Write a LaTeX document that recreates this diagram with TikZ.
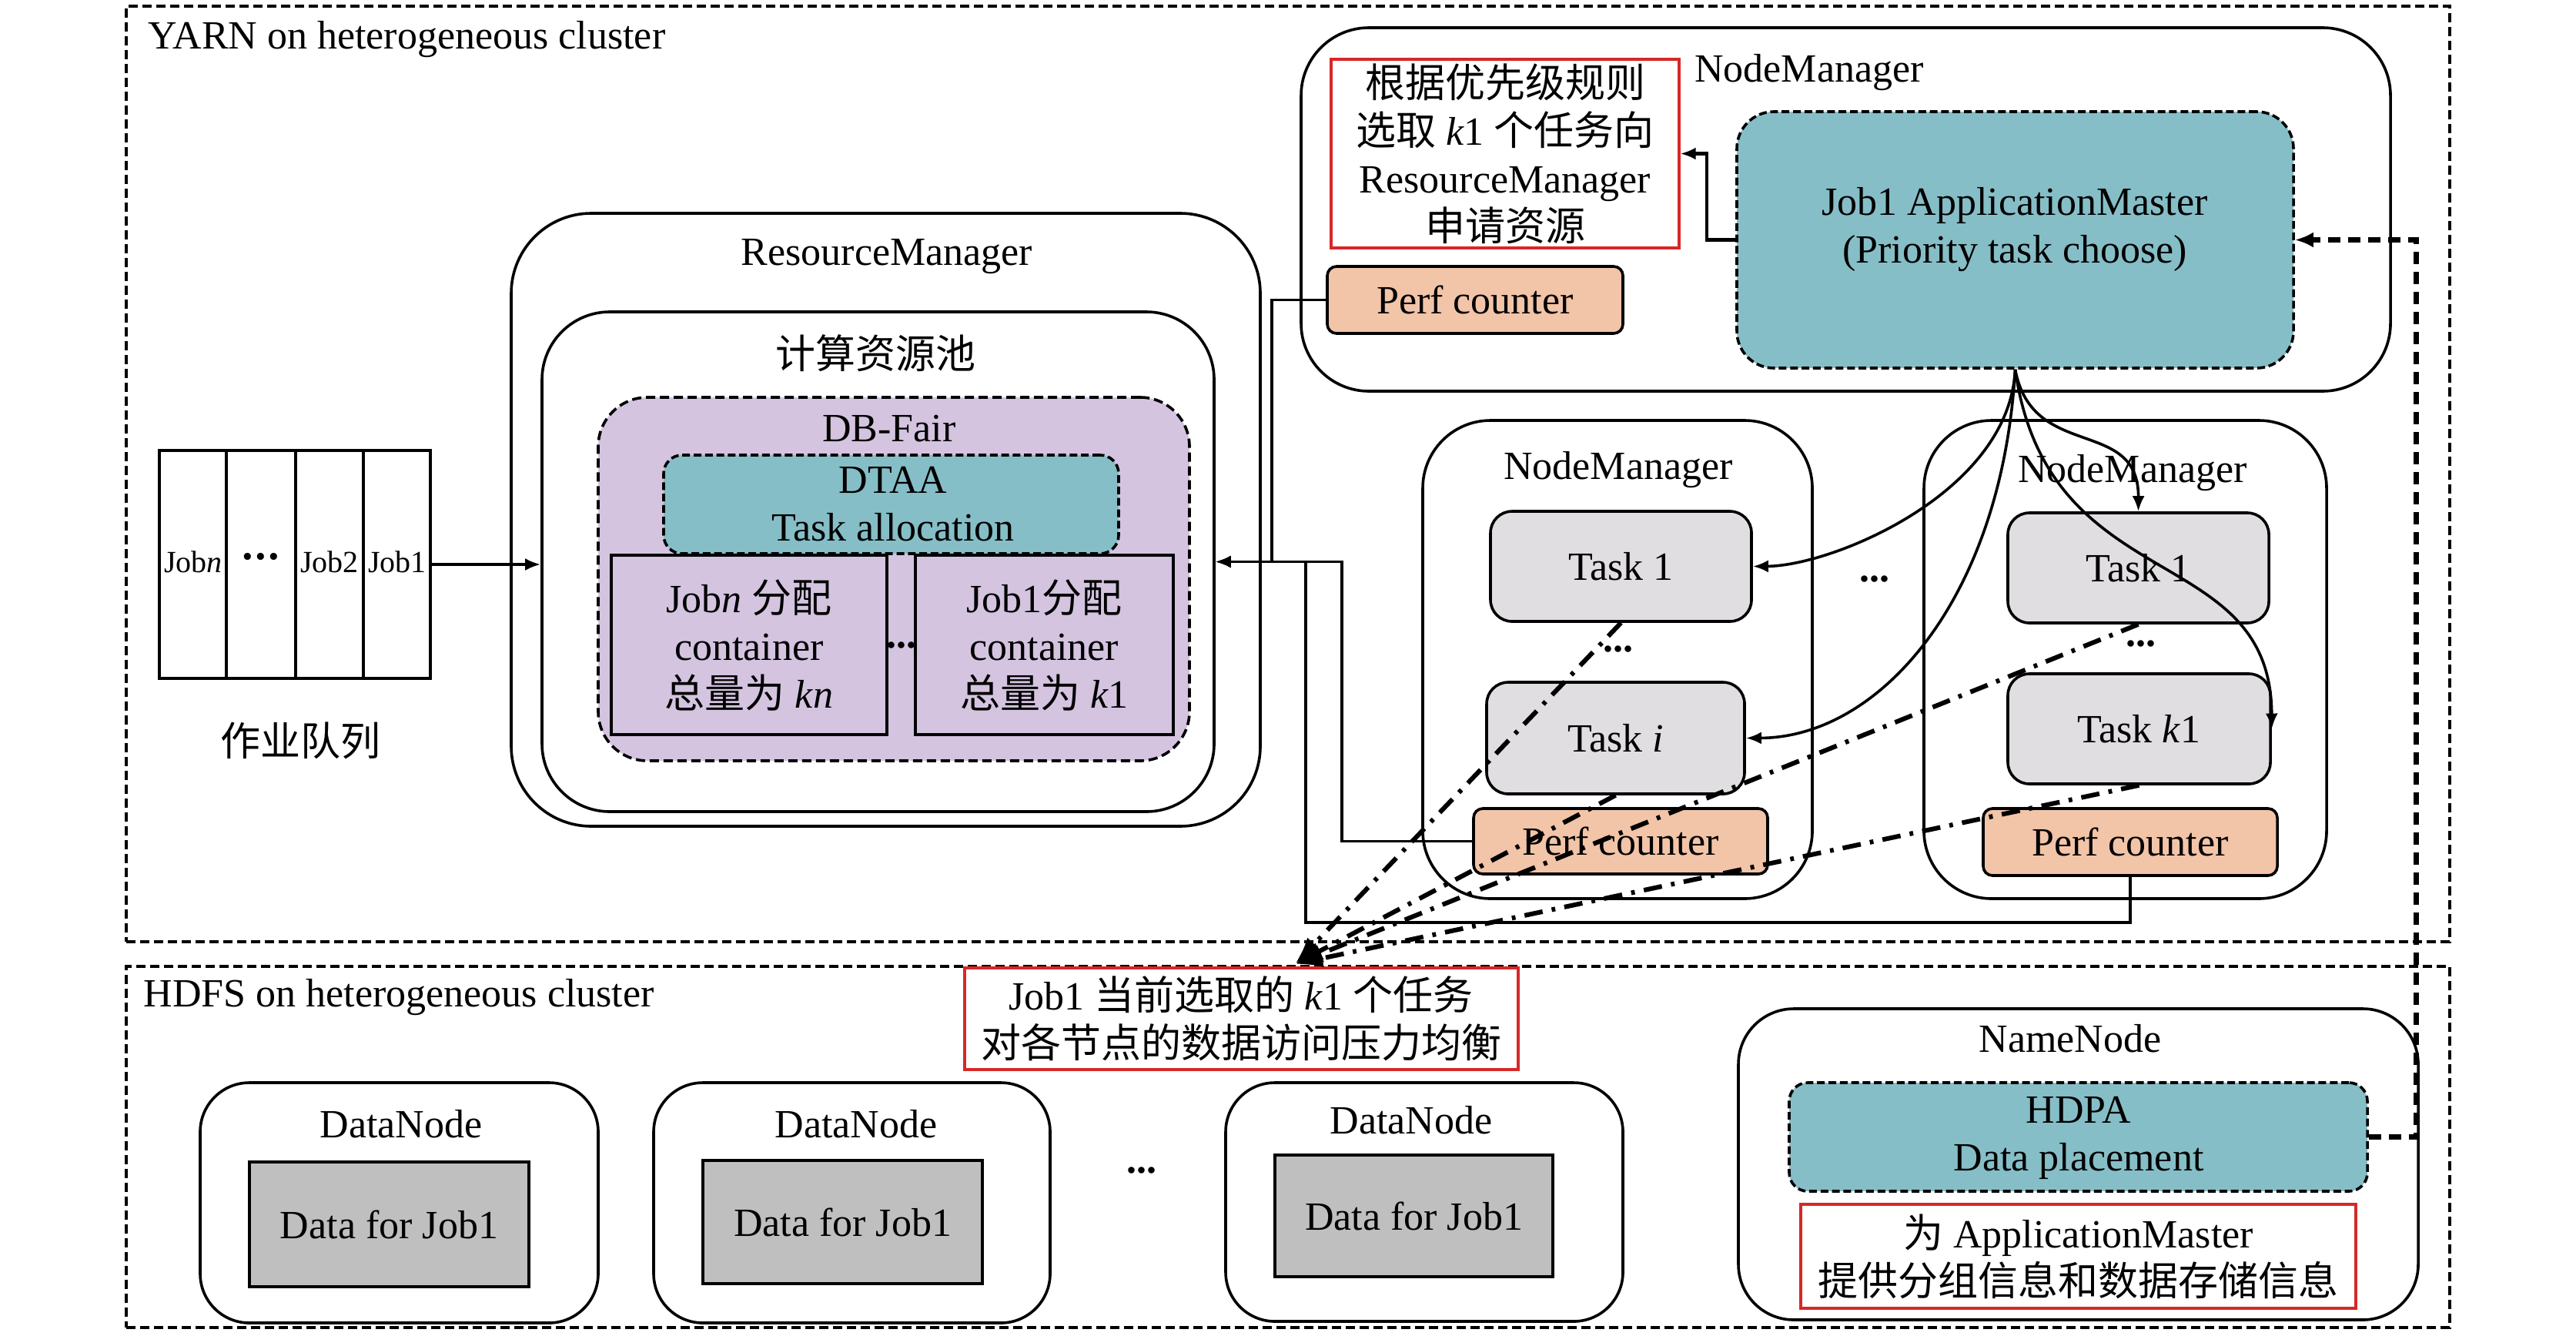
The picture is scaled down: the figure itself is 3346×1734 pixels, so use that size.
\documentclass[tikz,border=0pt]{standalone}
\usepackage{fontspec}
\setmainfont{Liberation Serif}
\newfontfamily\zhfont{Noto Sans CJK SC}
\newcommand\ZH[1]{{\zhfont #1}}
\usetikzlibrary{fit,calc,arrows.meta}
\definecolor{purp}{RGB}{212,196,224}
\definecolor{tealc}{RGB}{134,190,199}
\definecolor{salm}{RGB}{242,196,168}
\definecolor{tgray}{RGB}{224,222,224}
\definecolor{dgray}{RGB}{191,191,191}
\definecolor{redb}{RGB}{214,40,40}
\begin{document}
\begin{tikzpicture}[x=0.25pt,y=-0.25pt,
  font=\fontsize{13}{15.5}\selectfont,
  box/.style={draw, line width=0.9pt, inner sep=0pt},
  outerbox/.style={draw, line width=0.9pt, dash pattern=on 3pt off 1.5pt, inner sep=0pt},
  rbig/.style={box, rounded corners=#1},
  tealbox/.style={box, fill=tealc, dash pattern=on 2.5pt off 1.2pt, rounded corners=#1},
  purpbox/.style={box, fill=purp},
  redbox/.style={draw=redb, line width=0.8pt, inner sep=0pt},
  perfbox/.style={box, fill=salm, rounded corners=3pt},
  taskbox/.style={box, fill=tgray, rounded corners=7pt},
  databox/.style={box, fill=dgray},
  ttl/.style={inner sep=0pt, align=center},
  arr/.style={line width=0.9pt, -{Latex[length=5pt,width=4pt]}},
  dd/.style={line width=1.5pt, dash pattern=on 6pt off 3pt on 1.2pt off 3pt, -{Latex[length=9pt,width=6pt]}},
  thickdash/.style={line width=1.8pt, dash pattern=on 4pt off 2.5pt, -{Latex[length=6pt,width=5pt]}},
  dotsty/.style={inner sep=0pt, font=\bfseries\fontsize{13}{15}\selectfont}
]
\useasboundingbox (0,0) rectangle (3346,1734);

% outer regions
\node[outerbox, fit={(164,8) (3182,1223)}] (yarn) {};
\node[outerbox, fit={(164,1255) (3182,1724)}] (hdfs) {};
\node[ttl, anchor=west] (yarnt) at (192,51) {YARN on heterogeneous cluster};
\node[ttl, anchor=west] (hdfst) at (186,1295) {HDFS on heterogeneous cluster};

% job queue
\node[box, fit={(207,585) (559,881)}] (queue) {};
\draw[line width=0.9pt] (294,585) -- (294,881);
\draw[line width=0.9pt] (384,585) -- (384,881);
\draw[line width=0.9pt] (472,585) -- (472,881);
\node[ttl, font=\fontsize{10}{12}\selectfont] (qn) at (251,730) {Job\textit{n}};
\node[ttl, font=\bfseries\fontsize{14}{14}\selectfont] (qd) at (339,730) {·\kern-0.5pt·\kern-0.5pt·};
\node[ttl, font=\fontsize{10}{12}\selectfont] (q2) at (428,730) {Job2};
\node[ttl, font=\fontsize{10}{12}\selectfont] (q1) at (516,730) {Job1};
\node[ttl] (qlabel) at (390,962) {\ZH{作业队列}};

% ResourceManager
\node[rbig=26pt, fit={(664,277) (1637,1073)}] (rm) {};
\node[ttl] (rmt) at (1152,333) {ResourceManager};
\node[rbig=22pt, fit={(704,405) (1577,1054)}] (pool) {};
\node[ttl] (poolt) at (1137,459) {\ZH{计算资源池}};
\node[box, fill=purp, dash pattern=on 3pt off 1.5pt, rounded corners=16pt, fit={(777,516) (1545,988)}] (dbf) {};
\node[ttl] (dbft) at (1155,557) {DB-Fair};
\node[tealbox=6pt, fit={(862,591) (1453,719)}] (dtaa) {};
\node[ttl] (dtaal) at (1160,655) {DTAA\\Task allocation};
\node[purpbox, fit={(794,721) (1152,954)}] (jn) {};
\node[ttl] (jnl) at (jn) {Job\textit{n} \ZH{分配}\\container\\\ZH{总量为} \textit{kn}};
\node[purpbox, fit={(1189,721) (1524,954)}] (j1) {};
\node[ttl] (j1l) at (j1) {Job1\ZH{分配}\\container\\\ZH{总量为} \textit{k}1};
\node[dotsty] (jdots) at (1171,838) {...};

% top NodeManager with ApplicationMaster
\node[rbig=22pt, fit={(1690,36) (3105,508)}] (amnm) {};
\node[ttl] (amnmt) at (2350,94) {NodeManager};
\node[redbox, fit={(1729,77) (2181,322)}] (rb1) {};
\node[ttl] (rb1l) at (rb1) {\ZH{根据优先级规则}\\\ZH{选取} \textit{k}1 \ZH{个任务向}\\ResourceManager\\\ZH{申请资源}};
\node[perfbox, fit={(1724,346) (2108,433)}] (pc0) {};
\node[ttl] (pc0l) at (pc0) {Perf counter};
\node[tealbox=12pt, fit={(2256,145) (2979,478)}] (am) {};
\node[ttl] (aml) at (2617,298) {Job1 ApplicationMaster\\(Priority task choose)};

% middle NodeManager
\node[rbig=22pt, fit={(1848,546) (2354,1167)}] (nm1) {};
\node[ttl] (nm1t) at (2102,610) {NodeManager};
\node[taskbox, fit={(1936,664) (2275,807)}] (t1) {};
\node[ttl] (t1l) at (t1) {Task 1};
\node[dotsty] (d1dots) at (2102,843) {...};
\node[taskbox, fit={(1931,886) (2266,1031)}] (ti) {};
\node[ttl] (til) at (ti) {Task \textit{i}};
\node[perfbox, fit={(1914,1050) (2296,1135)}] (pc1) {};
\node[ttl] (pc1l) at (pc1) {Perf counter};

\node[dotsty] (nmdots) at (2435,752) {...};

% right NodeManager
\node[rbig=22pt, fit={(2499,546) (3022,1167)}] (nm2) {};
\node[ttl] (nm2t) at (2770,614) {NodeManager};
\node[taskbox, fit={(2608,666) (2947,809)}] (t1r) {};
\node[ttl] (t1rl) at (t1r) {Task 1};
\node[dotsty] (d2dots) at (2781,836) {...};
\node[taskbox, fit={(2608,875) (2949,1018)}] (tk) {};
\node[ttl] (tkl) at (tk) {Task \textit{k}1};
\node[perfbox, fit={(2576,1050) (2958,1137)}] (pc2) {};
\node[ttl] (pc2l) at (pc2) {Perf counter};

% HDFS part
\node[redbox, fit={(1253,1257) (1972,1389)}] (rb2) {};
\node[ttl] (rb2l) at (1612,1323) {Job1 \ZH{当前选取的} \textit{k}1 \ZH{个任务}\\\ZH{对各节点的数据访问压力均衡}};
\node[rbig=16pt, fit={(260,1406) (777,1718)}] (dn1) {};
\node[ttl] (dn1t) at (521,1460) {DataNode};
\node[databox, fit={(324,1509) (687,1671)}] (dd1) {};
\node[ttl] (dd1l) at (dd1) {Data for Job1};
\node[rbig=16pt, fit={(849,1406) (1364,1718)}] (dn2) {};
\node[ttl] (dn2t) at (1112,1460) {DataNode};
\node[databox, fit={(913,1507) (1276,1667)}] (dd2) {};
\node[ttl] (dd2l) at (dd2) {Data for Job1};
\node[dotsty] (dndots) at (1483,1520) {...};
\node[rbig=16pt, fit={(1592,1406) (2108,1716)}] (dn3) {};
\node[ttl] (dn3t) at (1833,1455) {DataNode};
\node[databox, fit={(1656,1500) (2017,1658)}] (dd3) {};
\node[ttl] (dd3l) at (dd3) {Data for Job1};
\node[rbig=18pt, fit={(2258,1310) (3141,1714)}] (nn) {};
\node[ttl] (nnt) at (2689,1349) {NameNode};
\node[tealbox=6pt, fit={(2324,1406) (3075,1547)}] (hdpa) {};
\node[ttl] (hdpal) at (2700,1478) {HDPA\\Data placement};
\node[redbox, fit={(2339,1564) (3060,1699)}] (rb3) {};
\node[ttl] (rb3l) at (rb3) {\ZH{为} ApplicationMaster\\\ZH{提供分组信息和数据存储信息}};

% connectors
\draw[arr] (queue.east) -- (queue.east -| pool.west);
\draw[arr] (pc0.west) -| ($(pool.east)+(73,0)$) -- (pool.east);
\draw[arr] (pc1.west) -| ($(pool.east)+(164,0)$) -- (pool.east);
\draw[arr] (pc2.south) -- ++(0,59) -| ($(pool.east)+(117,0)$) -- (pool.east);
\draw[arr, line width=1.1pt] (am.west) -- ++(-37,0) |- (rb1.east);
\draw[thickdash] (hdpa.east) -- ++(62,0) |- (am.east);

\draw[arr] (am.south) .. controls (2610,640) and (2380,735) .. (t1.east);
\draw[arr] (am.south) .. controls (2600,780) and (2440,958) .. (ti.east);
\draw[arr] (am.south) .. controls (2640,600) and (2778,540) .. (t1r.north);
\draw[arr] (am.south) .. controls (2660,780) and (2950,700) .. (tk.east);

\coordinate (conv) at (1682,1252);
\draw[dd] (t1.south) -- (conv);
\draw[dd] (ti.south) -- (conv);
\draw[dd] (t1r.south) -- (conv);
\draw[dd] (tk.south) -- (conv);
\end{tikzpicture}
\end{document}
